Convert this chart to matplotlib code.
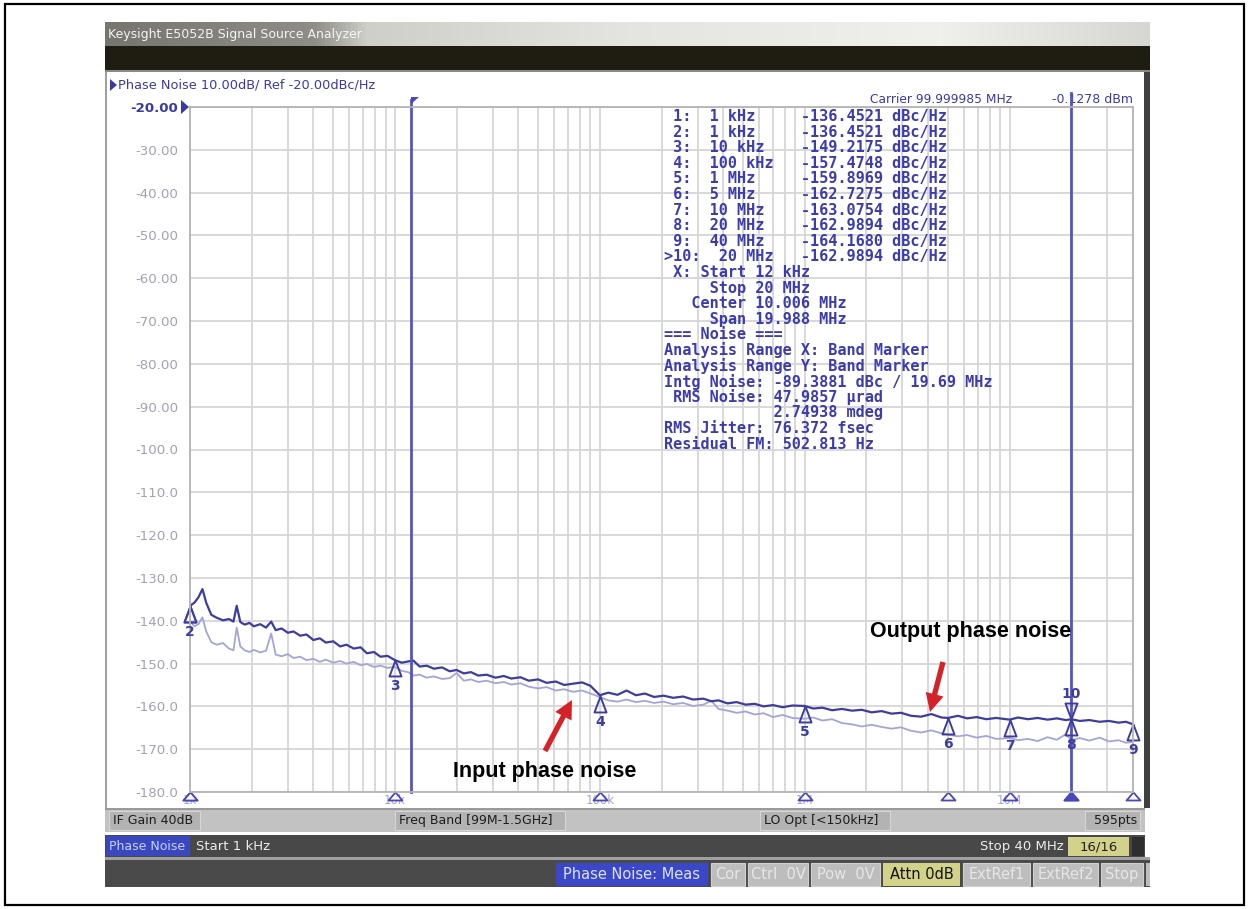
import numpy as np
import matplotlib
matplotlib.use("Agg")
import matplotlib.pyplot as plt
from matplotlib.patches import Rectangle, Polygon
from matplotlib.colors import LinearSegmentedColormap
from matplotlib.ticker import LogLocator, NullFormatter

W, H = 1249, 909

# sweep points (kHz) and the two traces (dBc/Hz)
freq_khz = [1.0, 1.05, 1.1, 1.15, 1.2, 1.27, 1.35, 1.45, 1.55, 1.63, 1.69, 1.76, 1.85, 1.95,
            2.05, 2.2, 2.35, 2.49, 2.62, 2.8, 3.0, 3.2, 3.45, 3.7, 4.0, 4.3, 4.6, 5.0, 5.4,
            5.8, 6.3, 6.8, 7.3, 7.9, 8.5, 9.2, 10, 10.8, 11.6, 12.3, 13.2, 14.3, 15.5, 17,
            18.5, 20, 21.7, 23.5, 25.5, 28, 31, 34, 37, 41, 45, 50, 55, 61, 67, 74, 82, 90,
            100, 110, 122, 135, 150, 166, 184, 205, 228, 255, 285, 320, 350, 380, 420, 465,
            515, 570, 630, 700, 780, 870, 1000, 1100, 1220, 1360, 1520, 1700, 1900, 2120,
            2370, 2650, 2950, 3300, 3700, 4150, 4650, 5000, 5600, 6200, 6900, 7700, 8600,
            10000, 11000, 12300, 13700, 15300, 17000, 18800, 20000, 22000, 24500, 27500,
            30500, 34000, 37000, 40000]

out_dbc = [-136.5, -135.8, -134.5, -132.6, -135.8, -138.6, -139.3, -139.9, -139.6, -140.2,
           -136.5, -140.3, -140.9, -140.5, -141.3, -140.8, -141.6, -140.2, -142.2, -141.8,
           -142.8, -142.5, -143.5, -143.2, -144.5, -144.1, -145.1, -144.8, -146.0, -145.6,
           -146.5, -146.2, -147.6, -147.3, -148.4, -148.2, -149.2, -149.8, -149.5, -149.3,
           -150.7, -150.5, -151.2, -150.9, -151.8, -151.5, -152.3, -152.0, -152.8, -152.6,
           -153.3, -152.9, -153.5, -153.2, -154.0, -153.7, -154.5, -154.2, -155.0, -154.7,
           -154.4, -155.2, -157.4, -156.8, -157.3, -156.3, -157.4, -157.0, -157.8, -157.5,
           -158.0, -157.7, -158.4, -158.2, -158.8, -158.6, -159.3, -159.0, -159.6, -159.4,
           -160.0, -159.7, -160.2, -159.8, -159.9, -160.5, -160.3, -160.9, -160.6, -161.0,
           -160.8, -161.4, -161.1, -161.7, -161.5, -162.2, -162.4, -161.8, -162.6, -162.7,
           -162.2, -162.8, -162.5, -163.0, -162.7, -163.1, -162.6, -163.0, -162.7, -163.1,
           -162.8, -163.2, -163.0, -163.4, -163.2, -163.6, -163.4, -163.8, -163.6, -164.2]

in_dbc = [-140.0, -141.3, -140.8, -139.2, -142.5, -145.0, -145.6, -145.2, -146.5, -146.9,
          -141.6, -146.0, -146.9, -147.3, -146.8, -147.4, -147.0, -143.0, -147.9, -148.3,
          -147.8, -148.7, -148.4, -149.2, -148.9, -149.6, -149.1, -149.8, -149.4, -150.0,
          -149.6, -150.4, -150.1, -150.8, -150.5, -151.0, -150.8, -151.7, -152.0, -152.8,
          -152.6, -153.3, -153.0, -153.6, -153.4, -152.2, -154.0, -153.7, -154.3, -154.0,
          -154.6, -154.3, -154.9, -154.6, -155.4, -155.8, -155.5, -156.3, -156.0, -156.6,
          -156.3, -157.0, -157.8, -158.6, -158.9, -158.4, -159.0, -158.7, -159.2, -158.9,
          -159.5, -159.2, -159.9, -159.6, -158.7, -160.6, -161.0, -161.5, -161.2, -161.9,
          -161.6, -162.5, -162.0, -162.7, -162.9, -162.6, -163.3, -163.0, -163.9, -164.2,
          -164.7, -164.3, -164.8, -165.2, -164.9, -165.7, -166.1, -165.6, -166.3, -166.6,
          -167.0, -166.7, -167.3, -166.9, -167.6, -167.4, -167.9, -167.6, -168.1, -167.2,
          -167.8, -166.5, -167.9, -167.4, -168.0, -167.3, -168.2, -167.9, -168.5, -168.3]

# markers 1..10
mk_names = ['1', '2', '3', '4', '5', '6', '7', '8', '9', '10']
mk_khz = [1, 1, 10, 100, 1000, 5000, 10000, 20000, 40000, 20000]
mk_dbc = [-136.4521, -136.4521, -149.2175, -157.4748, -159.8969, -162.7275,
          -163.0754, -162.9894, -164.1680, -162.9894]

band_khz = [12, 20000]

ytick_vals = list(range(-180, -10, 10))
ytick_txt = ['-180.0', '-170.0', '-160.0', '-150.0', '-140.0', '-130.0', '-120.0', '-110.0',
             '-100.0', '-90.00', '-80.00', '-70.00', '-60.00', '-50.00', '-40.00', '-30.00',
             '-20.00']
xtick_khz = [1, 10, 100, 1000, 10000]
xtick_txt = ['1k', '10k', '100k', '1M', '10M']

table_lines = [
    " 1:  1 kHz     -136.4521 dBc/Hz",
    " 2:  1 kHz     -136.4521 dBc/Hz",
    " 3:  10 kHz    -149.2175 dBc/Hz",
    " 4:  100 kHz   -157.4748 dBc/Hz",
    " 5:  1 MHz     -159.8969 dBc/Hz",
    " 6:  5 MHz     -162.7275 dBc/Hz",
    " 7:  10 MHz    -163.0754 dBc/Hz",
    " 8:  20 MHz    -162.9894 dBc/Hz",
    " 9:  40 MHz    -164.1680 dBc/Hz",
    ">10:  20 MHz   -162.9894 dBc/Hz",
    " X: Start 12 kHz",
    "     Stop 20 MHz",
    "   Center 10.006 MHz",
    "     Span 19.988 MHz",
    "=== Noise ===",
    "Analysis Range X: Band Marker",
    "Analysis Range Y: Band Marker",
    "Intg Noise: -89.3881 dBc / 19.69 MHz",
    " RMS Noise: 47.9857 \u00b5rad",
    "            2.74938 mdeg",
    "RMS Jitter: 76.372 fsec",
    "Residual FM: 502.813 Hz",
]

status1 = [("IF Gain 40dB", 109, 200), ("Freq Band [99M-1.5GHz]", 395, 565),
           ("LO Opt [<150kHz]", 760, 890), ("595pts", 1085, 1140)]
softkeys = [("Phase Noise: Meas", 556, 708, 'blue'), ("Cor", 711, 745, 'off'),
            ("Ctrl  0V", 748, 808, 'off'), ("Pow  0V", 811, 880, 'off'),
            ("Attn 0dB", 883, 960, 'yellow'), ("ExtRef1", 963, 1030, 'off'),
            ("ExtRef2", 1033, 1098, 'off'), ("Stop", 1101, 1143, 'off')]

BLUE = '#3a3aa6'
DARK = '#3d3d9e'
LIGHT = '#a4a4d8'

plt.rcParams['font.family'] = ['DejaVu Sans']

fig = plt.figure(figsize=(W / 100, H / 100), dpi=100)
fig.patch.set_facecolor('white')

bg = fig.add_axes([0, 0, 1, 1], zorder=0)
bg.axis('off')


def box(x0, x1, y0, y1, fc, ec='none', lw=0, a=bg):
    a.add_patch(Rectangle((x0, y0), x1 - x0, y1 - y0, fc=fc, ec=ec, lw=lw))


# title bar gradient
cm = LinearSegmentedColormap.from_list('tb', [(0, '#76756f'), (0.2, '#8e8d88'), (0.25, '#cfcfca'),
                                               (0.5, '#e4e4e0'), (0.8, '#f0f0ec'), (1, '#d6d6d2')])
bg.imshow(np.linspace(0, 1, 256)[None, :], cmap=cm, extent=(105, 1150, 47, 22), aspect='auto')
bg.text(108, 34.5, "Keysight E5052B Signal Source Analyzer", color='#f4f4f4', fontsize=9, va='center')
box(105, 1150, 46, 70, '#1f1c12')
box(105, 1150, 70, 72, '#8a8a8a')
box(105, 1145, 72, 808, 'white')
box(105, 107, 72, 808, '#a0a0a0')
box(1144, 1150, 72, 808, '#404040')

# header texts
bg.add_patch(Polygon([(110, 79), (110, 91), (117, 85)], fc=BLUE))
bg.text(118, 85.5, "Phase Noise 10.00dB/ Ref -20.00dBc/Hz", color=BLUE, fontsize=9.3, va='center')
bg.text(1012, 99.5, "Carrier 99.999985 MHz", color=BLUE, fontsize=8.8, va='center', ha='right')
bg.text(1133, 99.5, "-0.1278 dBm", color=BLUE, fontsize=9, va='center', ha='right')
bg.add_patch(Polygon([(181, 100), (181, 114), (189, 107)], fc=BLUE))

# status bars
box(105, 1145, 808, 832, '#c2c2c2')
box(105, 1145, 808, 809.5, '#9a9a9a')
for txt, x0, x1 in status1:
    box(x0, x1, 810.5, 830, '#b3b3b3', ec='#d6d6d6', lw=0.8)
    if txt == "595pts":
        bg.text(x1 - 3, 820.5, txt, fontsize=9, color='#1c1c1c', va='center', ha='right')
    else:
        bg.text(x0 + 4, 820.5, txt, fontsize=9, color='#1c1c1c', va='center')
box(105, 1145, 835, 857, '#484848')
box(106, 190, 836, 856, '#3a48c0')
bg.text(109, 846.5, "Phase Noise", fontsize=9, color='#c8d0ff', va='center')
bg.text(196, 846.5, "Start 1 kHz", fontsize=9.5, color='#ececec', va='center')
bg.text(1064, 846.5, "Stop 40 MHz", fontsize=9.5, color='#ececec', va='center', ha='right')
box(1068, 1129, 837, 856, '#d2d28a')
bg.text(1098.5, 846.5, "16/16", fontsize=9.5, color='#202020', va='center', ha='center')
box(1132, 1144, 837, 856, '#2e2e2e')
box(105, 1150, 857, 860, '#a0a0a0')
box(105, 1150, 860, 887, '#4a4a4a')
for txt, x0, x1, kind in softkeys:
    fc, tc = {'blue': ('#3a48c8', '#dde2ff'), 'yellow': ('#d2d28a', '#141414'),
              'off': ('#bdbdbd', '#e6e6e6')}[kind]
    box(x0, x1, 862.5, 886, fc, ec='#d0d0d0' if kind == 'off' else 'none', lw=0.8)
    bg.text((x0 + x1) / 2, 874.5, txt, fontsize=10.5, color=tc, va='center', ha='center')
box(1146, 1150, 862.5, 886, '#bdbdbd')

# outer frame
bg.add_patch(Rectangle((5, 3.5), 1239, 901.5, fc='none', ec='black', lw=1.6))
bg.set_xlim(0, W)
bg.set_ylim(H, 0)

# measurement plot
ax = fig.add_axes([190 / W, 1 - 792 / H, 943 / W, 685 / H], zorder=2)
ax.set_facecolor('none')
ax.set_xscale('log')
ax.set_xlim(1, 40000)
ax.set_ylim(-180, -20)
ax.set_xticks(xtick_khz, xtick_txt)
ax.xaxis.set_minor_locator(LogLocator(base=10, subs=range(2, 10), numticks=20))
ax.xaxis.set_minor_formatter(NullFormatter())
ax.set_yticks(ytick_vals, ytick_txt)
ax.grid(True, which='both', color='#d6d6d6', lw=1.3)
ax.set_axisbelow(True)
ax.tick_params(which='both', length=0)
ax.tick_params(axis='y', pad=8.6, labelsize=9.6, labelcolor='#a2a2b2')
ax.tick_params(axis='x', pad=1.5, labelsize=8.5, labelcolor='#a4a4c8')
for lab in ax.get_yticklabels():
    if lab.get_text() == '-20.00':
        lab.set_color(BLUE)
        lab.set_fontweight('bold')
for s in ax.spines.values():
    s.set_color('#b4b4b4')
    s.set_linewidth(1.3)

ax.plot(freq_khz, in_dbc, color=LIGHT, lw=1.3)
ax.plot(freq_khz, out_dbc, color=DARK, lw=1.6)

ax.plot([band_khz[0]] * 2, [-180, -18.4], color='#5454c4', lw=2, clip_on=False)
ax.plot([band_khz[1]] * 2, [-180, -16.8], color='#5454c4', lw=2, clip_on=False)

tri_up = [(0, 0), (-0.375, -1), (0.375, -1), (0, 0)]
tri_dn = [(0, 0), (-0.375, 1), (0.375, 1), (0, 0)]
tri_flat = [(0, 0), (-0.875, -1), (0.875, -1), (0, 0)]

for nm, f, v in zip(mk_names, mk_khz, mk_dbc):
    if nm == '10':
        ax.plot(f, v, marker=tri_dn, ms=23, mfc='none', mec=DARK, mew=1.4, ls='none', clip_on=False)
        ax.annotate(nm, (f, v), xytext=(0, 25), textcoords='offset pixels', ha='center',
                    va='center', fontsize=10, color=DARK, fontweight='bold')
    else:
        ax.plot(f, v, marker=tri_up, ms=23, mfc='none', mec=DARK, mew=1.4, ls='none', clip_on=False)
        if nm != '1':
            ax.annotate(nm, (f, v), xytext=(0, -26), textcoords='offset pixels', ha='center',
                        va='center', fontsize=10, color=DARK, fontweight='bold')
    filled = (nm == '10')
    ax.plot(f, 0, transform=ax.get_xaxis_transform(), marker=tri_flat, ms=11.5,
            mfc=('#4848b8' if filled else 'white'), mec='#4848b8', mew=1.3, ls='none', clip_on=False)

# overlay: marker table and callouts
top = fig.add_axes([0, 0, 1, 1], zorder=3)
top.set_facecolor('none')
top.axis('off')
top.set_xlim(0, W)
top.set_ylim(H, 0)
for i, line in enumerate(table_lines):
    top.text(664, 116.5 + i * 15.6, line, family='DejaVu Sans Mono', fontsize=11,
             fontweight='bold', color='#3c3cae', va='center')
top.add_patch(Polygon([(411, 97), (419, 97), (411, 104)], fc='#4848b8'))

top.text(971, 632, "Output phase noise", ha='center', va='center', fontsize=15.5,
         fontweight='bold', family='Liberation Sans', color='black')
top.text(545, 771, "Input phase noise", ha='center', va='center', fontsize=15.5,
         fontweight='bold', family='Liberation Sans', color='black')
arrow = dict(arrowstyle='simple,head_length=1.1,head_width=1.1,tail_width=0.32',
             fc='#d42228', ec='none', mutation_scale=12, shrinkA=0, shrinkB=0)
top.annotate('', xy=(930, 712), xytext=(943, 662), arrowprops=arrow)
top.annotate('', xy=(572, 700), xytext=(545, 751), arrowprops=arrow)

fig.savefig('out.png', dpi=100)
